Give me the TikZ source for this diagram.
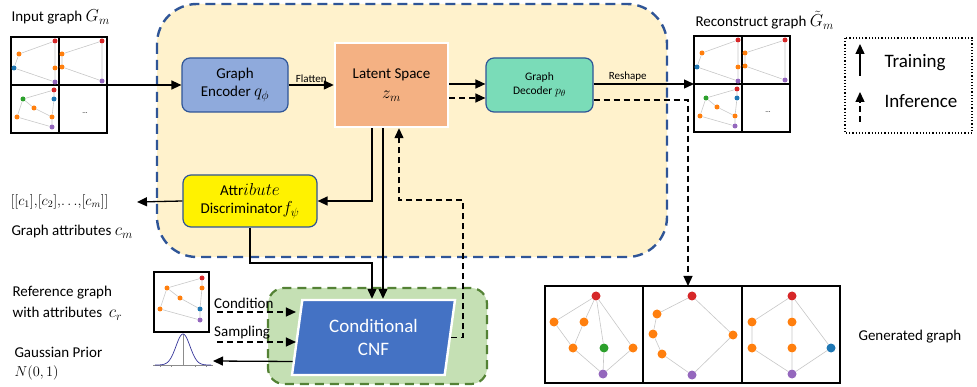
\documentclass[tikz,border=0pt]{standalone}
\usepackage{fontspec}
\setmainfont{Carlito}
\DeclareMathSizes{15}{17.28}{12}{10}
\DeclareMathSizes{11.5}{12}{9}{7}
\DeclareMathSizes{13.5}{14.4}{10}{8}
\usetikzlibrary{arrows.meta,shapes.geometric,calc}

\definecolor{blueframe}{HTML}{2F5597}
\definecolor{yelfill}{HTML}{FFF2CC}
\definecolor{encfill}{HTML}{8FAADC}
\definecolor{latfill}{HTML}{F4B183}
\definecolor{decfill}{HTML}{7ADCB8}
\definecolor{cnffill}{HTML}{4472C4}
\definecolor{greenfill}{HTML}{C5E0B4}
\definecolor{greenframe}{HTML}{548235}
\definecolor{gred}{HTML}{D62728}
\definecolor{gorange}{HTML}{FF7F0E}
\definecolor{gblue}{HTML}{1F77B4}
\definecolor{ggreen}{HTML}{2CA02C}
\definecolor{gpurple}{HTML}{9467BD}

\tikzset{
  arr/.style={-{Triangle[length=10pt,width=9pt]},line width=1.3pt},
  dasharr/.style={arr,dash pattern=on 6pt off 4pt},
  blk/.style={draw=blueframe,line width=1.2pt,rounded corners=8pt,align=center,inner sep=2pt},
  dot/.style={circle,inner sep=0pt,minimum size=5pt},
  gdot/.style={circle,inner sep=0pt,minimum size=9pt},
  gedge/.style={draw=black!22,line width=0.6pt},
  panel/.style={line width=2pt},
}

% 2x2 grid of sample graphs, top left corner at #1
\newcommand{\samplegrid}[1]{%
\begin{scope}[shift={#1}]
  \draw[panel] (0,0) rectangle (48,48);
  \draw[panel] (48,0) rectangle (96,48);
  \draw[panel] (0,48) rectangle (48,96);
  \draw[line width=1.2pt] (48,48) rectangle (96,96);
  % sample 1
  \node[dot,fill=gred] (a1) at (44,4) {};
  \node[dot,fill=gorange] (a2) at (8,17) {};
  \node[dot,fill=gblue] (a3) at (3,31) {};
  \node[dot,fill=gorange] (a4) at (44,31) {};
  \node[dot,fill=gpurple] (a5) at (44,45) {};
  \draw[gedge] (a1) -- (a2) -- (a3) -- (a5) -- (a4) -- (a1);
  % sample 2
  \node[dot,fill=gred] (b1) at (91,4) {};
  \node[dot,fill=gorange] (b2) at (51,17) {};
  \node[dot,fill=gorange] (b3) at (51,30) {};
  \node[dot,fill=gpurple] (b4) at (91,44) {};
  \draw[gedge] (b1) -- (b2) -- (b3) -- (b4) -- (b1);
  % sample 3
  \node[dot,fill=gred] (c1) at (43,53) {};
  \node[dot,fill=ggreen] (c2) at (12,62) {};
  \node[dot,fill=gblue] (c3) at (43,62) {};
  \node[dot,fill=gorange] (c4) at (23,71) {};
  \node[dot,fill=gorange] (c5) at (6,80) {};
  \node[dot,fill=gorange] (c6) at (41,80) {};
  \node[dot,fill=gpurple] (c7) at (41,90) {};
  \draw[gedge] (c1) -- (c2) -- (c5) -- (c7) -- (c6) -- (c3) -- (c1);
  \draw[gedge] (c2) -- (c4) -- (c6);
  \node[font=\scriptsize] (dots) at (74,76) {...};
\end{scope}}

\begin{document}
\begin{tikzpicture}[x=1pt,y=-1pt,font=\fontsize{15}{18}\selectfont]
\useasboundingbox (0,0) rectangle (977,387);

% containers
\draw[fill=yelfill,draw=blueframe,line width=2.4pt,dash pattern=on 10pt off 6pt,rounded corners=40pt]
  (157,4) rectangle (667,257);
\draw[fill=greenfill,draw=greenframe,line width=2.2pt,dash pattern=on 9pt off 6pt,rounded corners=16pt]
  (268,288) rectangle (487,384);

% blocks
\node[blk,fill=encfill,minimum width=106,minimum height=54] (enc) at (235,85) {Graph\\Encoder $q_\phi$};
\node[draw=white,line width=2.4pt,fill=latfill,minimum width=113,minimum height=84,align=center] (lat) at (391.5,85)
  {Latent Space\\[2pt]$z_m$};
\node[blk,fill=decfill,minimum width=107,minimum height=54,font=\fontsize{11.5}{14}\selectfont] (dec) at (539.5,85)
  {Graph\\Decoder $p_\theta$};
\node[blk,fill=yellow,minimum width=134,minimum height=52] (disc) at (250,201)
  {Attr$ibute$\\Discriminator$f_\psi$};
\node[trapezium,trapezium left angle=76.5,trapezium right angle=103.5,trapezium stretches body,
  minimum width=163,minimum height=75,fill=cnffill,draw=white,line width=2.4pt,text=white,align=center,
  font=\fontsize{19}{23}\selectfont] (cnf) at (373.5,337.5) {Conditional\\CNF};

% sample grids
\samplegrid{(11,37)}
\coordinate (ingrid) at (107,85);
\samplegrid{(694,36)}
\coordinate (recin) at (694,84);

% reference graph
\draw[line width=1.5pt] (154,272) rectangle (209,332);
\node[dot,fill=gred] (r1) at (202,278) {};
\node[dot,fill=gorange] (r2) at (167,288) {};
\node[dot,fill=gorange] (r3) at (202,288) {};
\node[dot,fill=gorange] (r4) at (180,298) {};
\node[dot,fill=gorange] (r5) at (160,309) {};
\node[dot,fill=gblue] (r6) at (200,309) {};
\node[dot,fill=gpurple] (r7) at (200,320) {};
\draw[gedge] (r2) -- (r1) -- (r3) -- (r6) -- (r7) -- (r5) -- (r2) -- (r4) -- (r6);

% gaussian prior
\draw[black!45,line width=0.6pt] (153,365) -- (213,365);
\foreach \t in {160,171,195,206} \draw[black!45,line width=0.5pt] (\t,365) -- (\t,367);
\draw[black!45,line width=1pt] (183,334) -- (183,365);
\draw[blue!50!black!80,line width=0.7pt] plot[domain=-28:28,samples=60] ({183+\x},{365-31*exp(-(\x/7)^2/2)});

% generated graphs
\draw[panel] (545,286) rectangle (643,383);
\draw[panel] (643,286) rectangle (742,383);
\draw[panel] (742,286) rectangle (840,383);
\node[gdot,fill=gred] (g1) at (596,296) {};
\node[gdot,fill=gorange] (g2) at (554,322) {};
\node[gdot,fill=gorange] (g3) at (584,322) {};
\node[gdot,fill=gorange] (g4) at (573,348) {};
\node[gdot,fill=ggreen] (g5) at (604,348) {};
\node[gdot,fill=gorange] (g6) at (633,348) {};
\node[gdot,fill=gpurple] (g7) at (603,374) {};
\draw[gedge] (g1) -- (g2) -- (g4) -- (g7) -- (g5) -- (g1) -- (g3) -- (g4);
\draw[gedge] (g1) -- (g6) -- (g7);
\node[gdot,fill=gred] (h1) at (692,296) {};
\node[gdot,fill=gorange] (h2) at (657,314) {};
\node[gdot,fill=gorange] (h3) at (653,334) {};
\node[gdot,fill=gorange] (h4) at (662,354) {};
\node[gdot,fill=gorange] (h5) at (733,335) {};
\node[gdot,fill=gpurple] (h6) at (692,375) {};
\draw[gedge] (h1) -- (h2) -- (h3) -- (h4) -- (h6) -- (h5) -- (h1);
\node[gdot,fill=gred] (k1) at (792,296) {};
\node[gdot,fill=gorange] (k2) at (752,322) {};
\node[gdot,fill=gorange] (k3) at (792,322) {};
\node[gdot,fill=gorange] (k4) at (752,348) {};
\node[gdot,fill=gorange] (k5) at (792,348) {};
\node[gdot,fill=gblue] (k6) at (831,348) {};
\node[gdot,fill=gpurple] (k7) at (792,374) {};
\draw[gedge] (k1) -- (k2) -- (k4) -- (k7) -- (k5) -- (k3) -- (k1) -- (k6) -- (k7);
\coordinate (gentop) at (688,286);

% labels
\node[anchor=west] (lin) at (8,17) {Input graph $G_m$};
\node[anchor=west] (lrec) at (692,20) {Reconstruct graph $\tilde{G}_m$};
\node[anchor=west,font=\fontsize{13.5}{16}\selectfont] (lattr) at (7,202) {$[[c_1]{,}[c_2]{,}{\ldots}{,}[c_m]]$};
\node[anchor=west] (lgattr) at (8,232) {Graph attributes $c_m$};
\node[anchor=west] (lref) at (9,293) {Reference graph};
\node[anchor=west] (lwith) at (9,314) {with attributes \ $c_r$};
\node[anchor=west] (lgp) at (11,352) {Gaussian Prior};
\node[anchor=west,font=\fontsize{13.5}{16}\selectfont] (lnorm) at (11,373) {$N(0,1)$};
\node[anchor=west] (lgen) at (855,337) {Generated graph};
\coordinate (attrout) at (137,202);
\coordinate (cond) at (217,312);
\coordinate (samp) at (217,342);
\coordinate (gauss) at (213,361);
\node[anchor=south west,inner sep=1pt] (lcond) at (213,310) {Condition};
\node[anchor=south west,inner sep=1pt] (lsamp) at (213,340) {Sampling};

% connectors
\draw[arr] (ingrid) -- (enc.west);
\draw[arr] (enc.east) -- node[above,font=\fontsize{11}{13}\selectfont,inner sep=2pt] {Flatten} (lat.west);
\draw[arr] ([yshift=1pt]lat.east) -- ([yshift=1pt]dec.west);
\draw[dasharr] ([yshift=-13pt]lat.east) -- ([yshift=-13pt]dec.west);
\draw[arr] ([yshift=1pt]dec.east) -- node[above,font=\fontsize{11}{13}\selectfont,inner sep=2pt,pos=0.34] {Reshape} (recin);
\draw[dasharr] ([yshift=-15pt]dec.east) -| (gentop);
\draw[arr] ([xshift=-19.5pt]lat.south) |- (disc.east);
\draw[arr] (disc.west) -- (attrout);
\coordinate (jn) at (372,263);
\draw[arr] (disc.south) |- (jn) -- (jn |- cnf.north);
\draw[arr] ([xshift=-8.5pt]lat.south) -- ([xshift=-8.5pt]lat.south |- cnf.north);
\coordinate (up1) at (463,200);
\draw[dasharr] (cnf.east) -| (up1) -| ([xshift=7.5pt]lat.south);
\draw[dasharr] (cond) -- (cond -| cnf.west);
\draw[dasharr] (samp) -- (samp -| cnf.west);
\draw[arr] ($(cnf.bottom left corner)!0.19!(cnf.top left corner)$) -- (gauss);

% legend
\draw[line width=1.2pt,dotted] (845,38) rectangle (972,133);
\coordinate (ta) at (860,76);
\coordinate (tb) at (860,44);
\coordinate (ia) at (860,122);
\coordinate (ib) at (860,92);
\draw[arr] (ta) -- (tb);
\draw[dasharr] (ia) -- (ib);
\node[anchor=west,font=\fontsize{19}{22}\selectfont] (ltrain) at (881,63) {Training};
\node[anchor=west,font=\fontsize{19}{22}\selectfont] (linf) at (881,101) {Inference};
\end{tikzpicture}
\end{document}
